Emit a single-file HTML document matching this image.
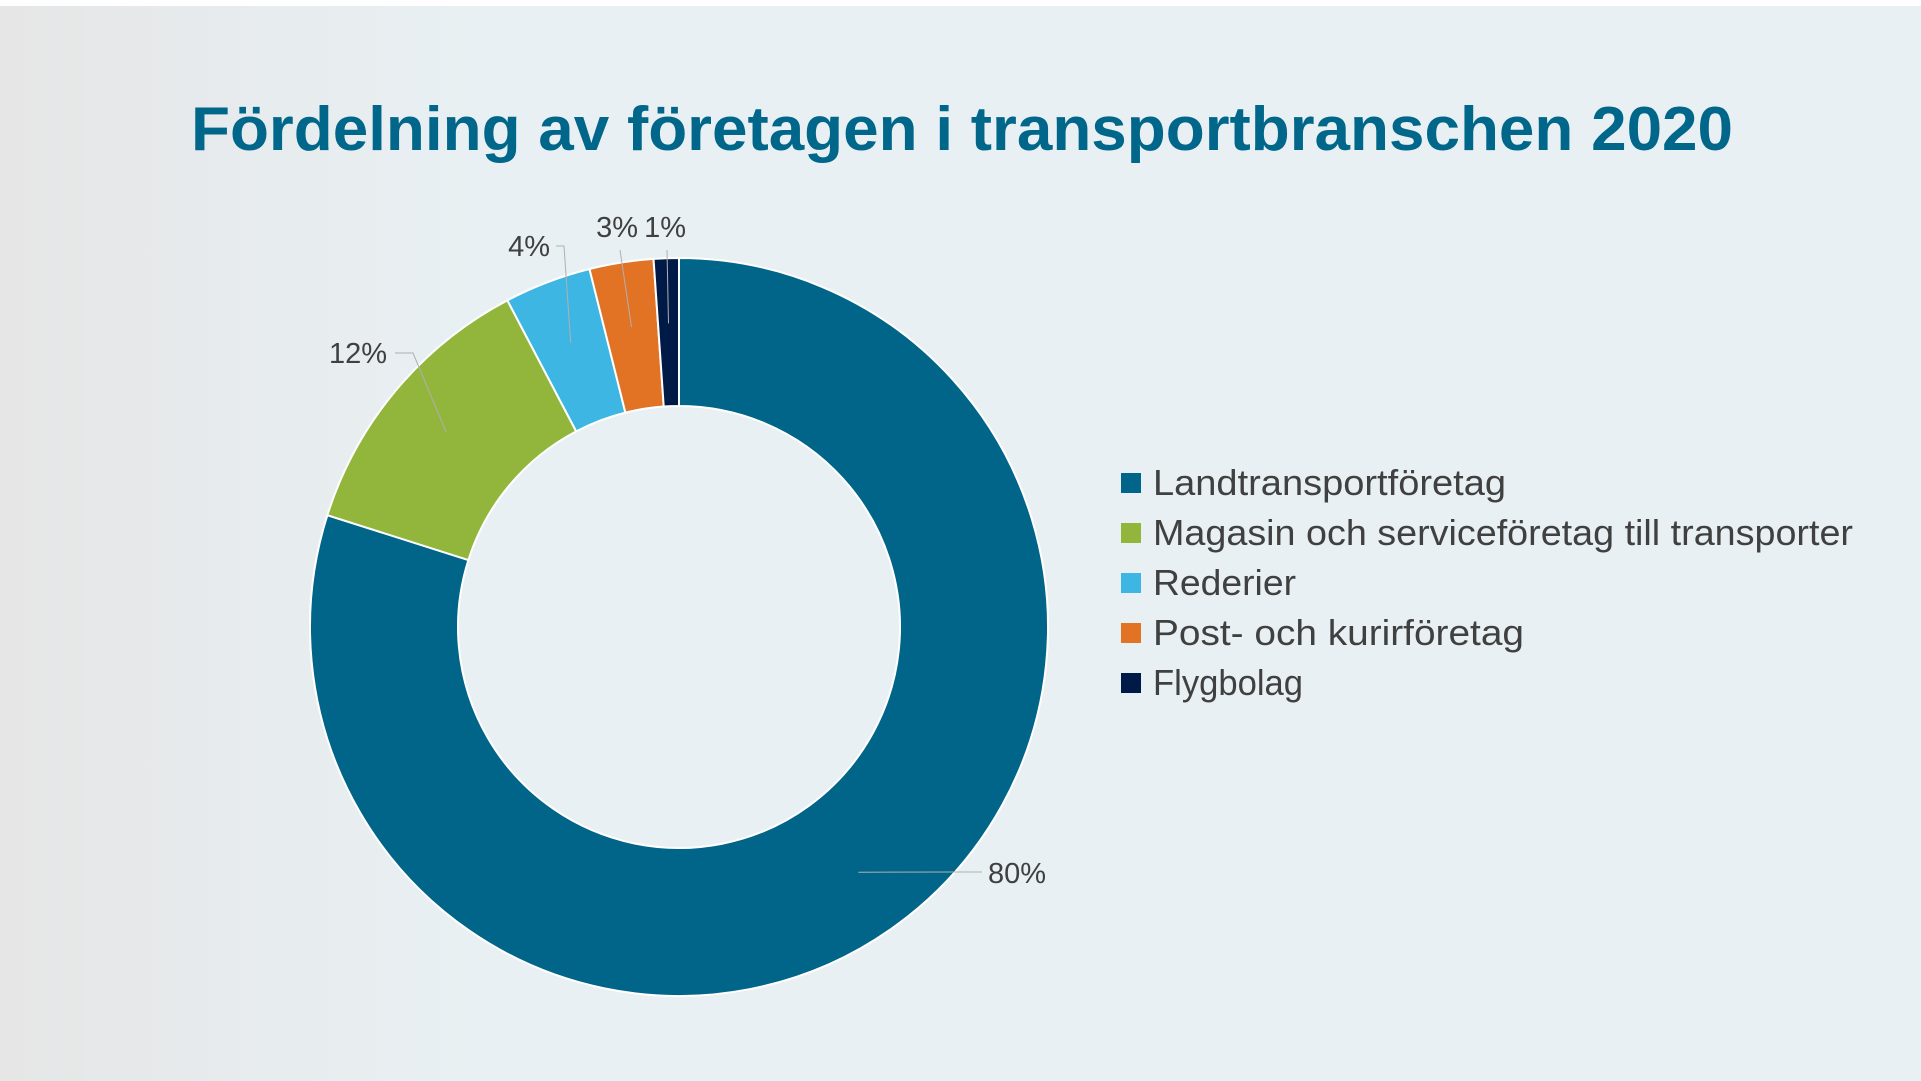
<!DOCTYPE html>
<html><head><meta charset="utf-8"><style>
html,body{margin:0;padding:0;}
body{width:1921px;height:1081px;overflow:hidden;background:#fff;}
svg{display:block;font-family:"Liberation Sans",sans-serif;}
</style></head><body>
<svg width="1921" height="1081">
<defs><linearGradient id="bg" x1="0" x2="1" y1="0" y2="0">
<stop offset="0" stop-color="#e6e6e6"/><stop offset="0.12" stop-color="#e7ebed"/><stop offset="0.25" stop-color="#e8f0f3"/><stop offset="1" stop-color="#e8f0f3"/></linearGradient></defs>
<rect x="0" y="6" width="1921" height="1075" fill="url(#bg)"/>
<text x="191" y="150" font-size="62" font-weight="bold" fill="#00668a" textLength="1542" lengthAdjust="spacingAndGlyphs">Fördelning av företagen i transportbranschen 2020</text>
<g id="slices"></g>
<g id="labels"></g>
<g id="legend"></g>
</svg>
<script>
const categories = ["Landtransportföretag","Magasin och serviceföretag till transporter","Rederier","Post- och kurirföretag","Flygbolag"];
const values = [79.9, 12.4, 3.8, 2.8, 1.1];
const valueLabels = ["80%","12%","4%","3%","1%"];
const colors = ["#006588","#92b53b","#3db6e3","#e27325","#001a48"];
const ns="http://www.w3.org/2000/svg";
const cx=679, cy=627, R=369, r=221;
const total=values.reduce((a,b)=>a+b,0);
function pt(a,rad){return [cx+rad*Math.sin(a), cy-rad*Math.cos(a)];}
const sg=document.getElementById('slices');
let acc=0;
const mids=[];
values.forEach((v,i)=>{
  const a0=acc/total*2*Math.PI; acc+=v; const a1=acc/total*2*Math.PI;
  mids.push((a0+a1)/2);
  const large=(a1-a0)>Math.PI?1:0;
  const [x0,y0]=pt(a0,R),[x1,y1]=pt(a1,R),[x2,y2]=pt(a1,r),[x3,y3]=pt(a0,r);
  const p=document.createElementNS(ns,'path');
  p.setAttribute('d',`M${x0},${y0}A${R},${R} 0 ${large} 1 ${x1},${y1}L${x2},${y2}A${r},${r} 0 ${large} 0 ${x3},${y3}Z`);
  p.setAttribute('fill',colors[i]);p.setAttribute('stroke','#fff');p.setAttribute('stroke-width','2');
  
  
  sg.appendChild(p);
});
// label placement: [labelX, labelY(baseline), anchor]
const lg=document.getElementById('labels');
const lp=[[988,883,'start'],[387,363,'end'],[550,256,'end'],[638,237,'end'],[686,237,'end']];
mids.forEach((m,i)=>{
  const [ix,iy]=pt(m,(R+r)/2*1.03);
  const [lx,ly,anc]=lp[i];
  let pts;
  if(i===0) pts=`${ix},${iy} ${lx-33},${ly-11} ${lx-6},${ly-11}`;
  else if(i===1) pts=`${ix},${iy} ${lx+26},${ly-10} ${lx+8},${ly-10}`;
  else if(i===2) pts=`${ix},${iy} ${lx+14},${ly-10} ${lx+6},${ly-10}`;
  else pts=`${ix},${iy} ${lx-18+ (i===4?-1:0)},${ly+13}`;
  const pl=document.createElementNS(ns,'polyline');
  pl.setAttribute('points',pts);pl.setAttribute('fill','none');pl.setAttribute('stroke','#b0b0b0');pl.setAttribute('stroke-width','1');
  
  
  lg.appendChild(pl);
  const t=document.createElementNS(ns,'text');
  t.setAttribute('x',lx);t.setAttribute('y',ly);t.setAttribute('text-anchor',anc);
  t.setAttribute('font-size','29');t.setAttribute('fill','#404040');
  t.textContent=valueLabels[i];
  
  
  lg.appendChild(t);
});
const leg=document.getElementById('legend');
const lens=[353,700,143,371,150];
categories.forEach((c,i)=>{
  const y=483+i*50;
  const s=document.createElementNS(ns,'rect');
  s.setAttribute('x',1121);s.setAttribute('y',y-10);s.setAttribute('width',20);s.setAttribute('height',20);s.setAttribute('fill',colors[i]);
  
  
  leg.appendChild(s);
  const t=document.createElementNS(ns,'text');
  t.setAttribute('x',1153);t.setAttribute('y',y+12);t.setAttribute('font-size','36');t.setAttribute('fill','#404040');
  t.setAttribute('textLength',lens[i]);t.setAttribute('lengthAdjust','spacingAndGlyphs');
  t.textContent=c;
  
  
  leg.appendChild(t);
});
</script>
</body></html>
